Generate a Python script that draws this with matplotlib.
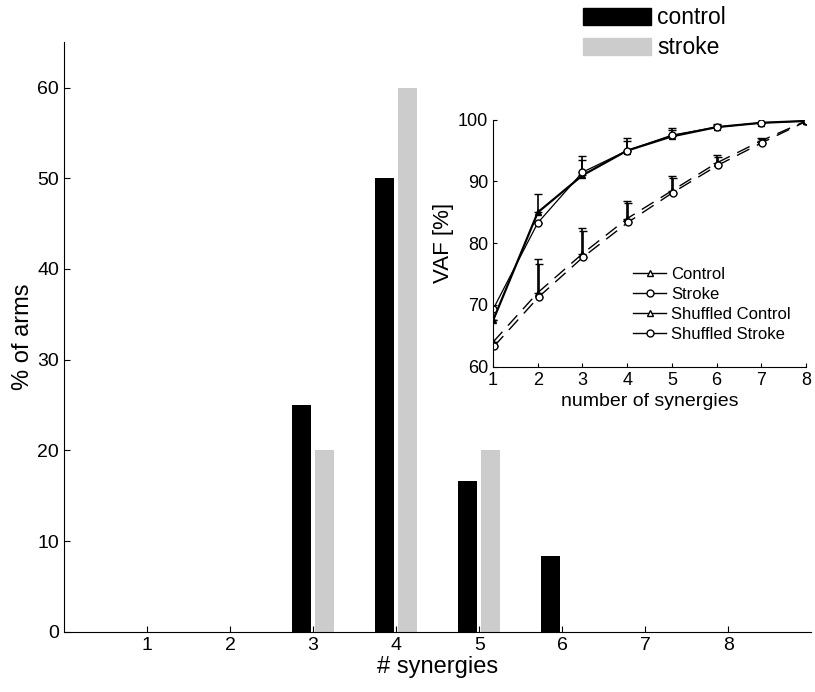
import numpy as np
import matplotlib
matplotlib.use('Agg')
import matplotlib.pyplot as plt
from matplotlib.patches import Patch
from matplotlib.lines import Line2D

plt.rcParams['font.family'] = ['Liberation Sans', 'DejaVu Sans']

# histogram data
syn = np.arange(1, 9)
pct_control = [0, 0, 25, 50, 16.67, 8.33, 0, 0]
pct_stroke = [0, 0, 20, 60, 20, 0, 0, 0]

# inset data (VAF)
n_syn = np.arange(1, 9)
vaf_control = [67.5, 85.0, 91.0, 95.0, 97.3, 98.8, 99.5, 99.8]
vaf_control_err = [0, 3.0, 2.5, 1.6, 1.0, 0.5, 0, 0]
vaf_stroke = [69.3, 83.3, 91.5, 95.0, 97.5, 98.8, 99.5, 99.8]
vaf_stroke_err = [0, 0, 2.7, 2.0, 1.1, 0.4, 0, 0]
vaf_sh_control = [64.0, 72.0, 78.3, 84.0, 88.5, 93.0, 96.6, 99.8]
vaf_sh_control_err = [0, 5.5, 4.1, 2.8, 2.4, 1.3, 0.5, 0]
vaf_sh_stroke = [63.3, 71.3, 77.8, 83.4, 88.2, 92.6, 96.3, 99.8]
vaf_sh_stroke_err = [0, 5.4, 4.2, 3.1, 2.3, 1.4, 0.5, 0]

fig = plt.figure(figsize=(8.15, 6.92), dpi=100)
ax = fig.add_axes([0.0785, 0.087, 0.917, 0.852])

w = 0.23
ax.bar(syn - 0.14, pct_control, w, color='black')
ax.bar(syn + 0.14, pct_stroke, w, color='#cccccc')
ax.set_xlim(0, 9)
ax.set_ylim(0, 65)
ax.set_xticks(syn)
ax.set_yticks(np.arange(0, 61, 10))
ax.spines['top'].set_visible(False)
ax.spines['right'].set_visible(False)
ax.tick_params(labelsize=14, direction='in', length=4)
ax.set_xlabel('# synergies', fontsize=17, labelpad=2)
ax.set_ylabel('% of arms', fontsize=17, labelpad=2)

hs = [Patch(color='black'), Patch(color='#cccccc')]
fig.legend(hs, ['control', 'stroke'], loc='upper left', bbox_to_anchor=(0.712, 0.994),
           frameon=False, fontsize=16.5, handlelength=3.0, handleheight=0.75,
           handletextpad=0.25, labelspacing=0.3, borderpad=0.1, borderaxespad=0)

# inset
ins = fig.add_axes([0.605, 0.470, 0.384, 0.357])
ins.errorbar(n_syn, vaf_control, yerr=[np.zeros(8), vaf_control_err], color='black',
             marker='^', mfc='black', ms=5, lw=1.6, capsize=3, elinewidth=1.2)
ins.errorbar(n_syn, vaf_stroke, yerr=[np.zeros(8), vaf_stroke_err], color='black',
             marker='o', mfc='white', ms=5, lw=0.9, capsize=3, elinewidth=1.2)
ins.errorbar(n_syn, vaf_sh_control, yerr=[np.zeros(8), vaf_sh_control_err], color='black',
             marker='^', mfc='black', ms=5, lw=1.0, ls=(0, (10, 6)), capsize=3, elinewidth=1.2)
ins.errorbar(n_syn + 0.02, vaf_sh_stroke, yerr=[np.zeros(8), vaf_sh_stroke_err], color='black',
             marker='o', mfc='white', ms=5, lw=1.0, ls=(0, (10, 6)), capsize=3, elinewidth=1.2)
ins.set_xlim(1, 8)
ins.set_ylim(60, 100)
ins.set_xticks(n_syn)
ins.set_yticks(np.arange(60, 101, 10))
ins.spines['top'].set_visible(False)
ins.spines['right'].set_visible(False)
ins.patch.set_alpha(0)
ins.tick_params(labelsize=13, direction='in', length=3)
ins.set_xlabel('number of synergies', fontsize=14, labelpad=3)
ins.set_ylabel('VAF [%]', fontsize=16, labelpad=3)

lh = [Line2D([], [], color='black', marker='^', mfc='white', ms=5, lw=1),
      Line2D([], [], color='black', marker='o', mfc='white', ms=5, lw=1),
      Line2D([], [], color='black', marker='^', mfc='white', ms=5, lw=1),
      Line2D([], [], color='black', marker='o', mfc='white', ms=5, lw=1)]
ins.legend(lh, ['Control', 'Stroke', 'Shuffled Control', 'Shuffled Stroke'],
           loc='lower right', bbox_to_anchor=(1.0, 0.04), frameon=False, fontsize=12,
           handlelength=2.0, handletextpad=0.3, labelspacing=0.3)

fig.savefig('out.png', dpi=100)
